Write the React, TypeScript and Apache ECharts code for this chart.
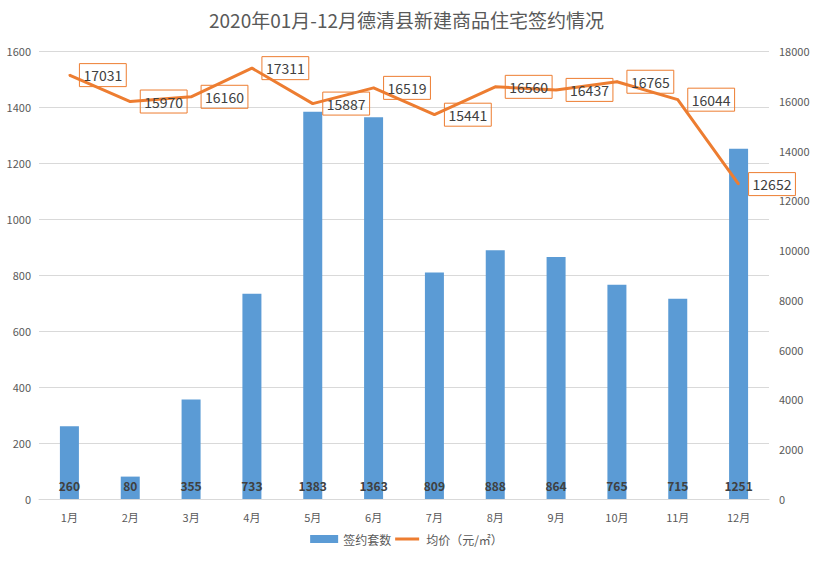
import React, { useEffect, useRef } from "react";
import * as echarts from "echarts";

const title = "2020年01月-12月德清县新建商品住宅签约情况";
const categories = ["1月", "2月", "3月", "4月", "5月", "6月", "7月", "8月", "9月", "10月", "11月", "12月"];
const barName = "签约套数";
const lineName = "均价（元/㎡）";
const barValues = [260, 80, 355, 733, 1383, 1363, 809, 888, 864, 765, 715, 1251];
const lineValues = [17031, 15970, 16160, 17311, 15887, 16519, 15441, 16560, 16437, 16765, 16044, 12652];

const FONT = "'Noto Sans CJK SC', 'Noto Sans', sans-serif";
const LINE_ICON = "path://M0,0L0.01,0Z M0,3H30V7H0Z M0,10L0.01,10Z";

export default function App() {
  const ref = useRef<HTMLDivElement>(null);
  useEffect(() => {
    document.body.style.margin = "0";
    const chart = echarts.init(ref.current!, undefined, { renderer: "svg" });
    chart.setOption({
      animation: false,
      backgroundColor: "#ffffff",
      textStyle: { fontFamily: FONT },
      title: {
        text: title,
        left: "center",
        top: 5,
        textStyle: { fontSize: 19, fontWeight: "normal", color: "#595959", fontFamily: FONT },
      },
      legend: {
        bottom: 12,
        left: "center",
        itemWidth: 28,
        itemHeight: 8,
        itemGap: 4,
        textStyle: { fontSize: 12, color: "#595959", fontFamily: FONT },
        data: [
          { name: barName, icon: "rect" },
          { name: lineName, icon: LINE_ICON },
        ],
      },
      grid: { left: 39, right: 44, top: 51, bottom: 63 },
      xAxis: {
        type: "category",
        data: categories,
        axisLine: { lineStyle: { color: "#D9D9D9", width: 1 } },
        axisTick: { show: false },
        axisLabel: { color: "#595959", fontSize: 11, margin: 12, fontFamily: FONT },
      },
      yAxis: [
        {
          type: "value",
          min: 0,
          max: 1600,
          interval: 200,
          axisLine: { show: false },
          axisTick: { show: false },
          splitLine: { lineStyle: { color: "#D9D9D9" } },
          axisLabel: { color: "#595959", fontSize: 11, margin: 8, fontFamily: FONT, formatter: (v: number) => String(v) },
        },
        {
          type: "value",
          min: 0,
          max: 18000,
          interval: 2000,
          axisLine: { show: false },
          axisTick: { show: false },
          splitLine: { show: false },
          axisLabel: { color: "#595959", fontSize: 11, margin: 10, fontFamily: FONT, formatter: (v: number) => String(v) },
        },
      ],
      series: [
        {
          name: barName,
          type: "bar",
          data: barValues,
          barWidth: 19,
          itemStyle: { color: "#5B9BD5" },
          label: {
            show: true,
            position: "insideBottom",
            distance: 8,
            color: "#404040",
            fontSize: 12,
            fontWeight: "bold",
            fontFamily: FONT,
          },
        },
        {
          name: lineName,
          type: "line",
          yAxisIndex: 1,
          data: lineValues,
          symbol: "circle",
          symbolSize: 2,
          showSymbol: true,
          z: 3,
          lineStyle: { color: "#ED7D31", width: 3 },
          itemStyle: { color: "#ED7D31" },
          label: {
            show: true,
            position: "right",
            distance: 9,
            color: "#404040",
            fontSize: 14,
            fontFamily: FONT,
            borderColor: "#ED7D31",
            borderWidth: 1,
            padding: [5, 4, 4, 4],
          },
        },
      ],
    });
    return () => chart.dispose();
  }, []);
  return <div ref={ref} style={{ width: 813, height: 562 }} />;
}
